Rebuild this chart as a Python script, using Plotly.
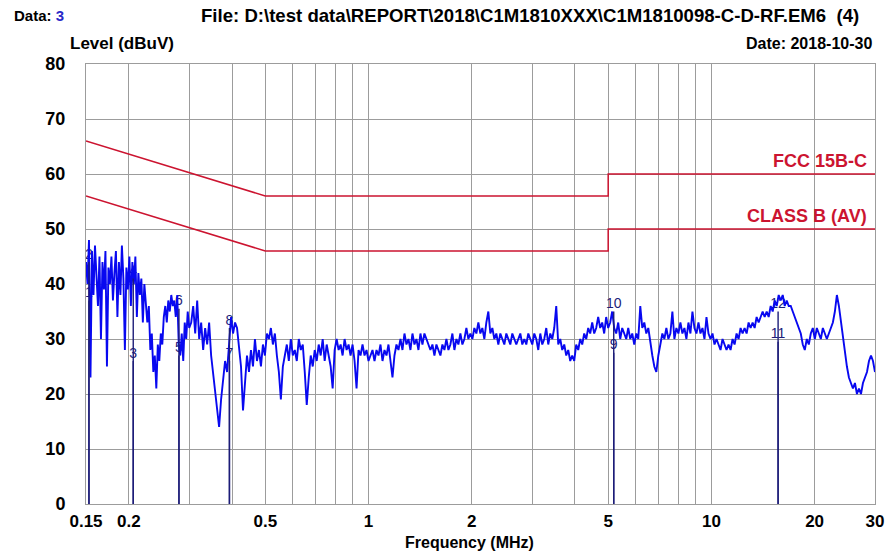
import numpy as np
import plotly.graph_objects as go

# ---- measured trace levels (dBuV), read from the picture segment by segment ----
# 0.15 .. 0.30 MHz
LEVEL_A = [
    44, 40, 48, 23, 46, 38, 47, 42, 36, 45,
    30, 44, 39, 46, 25, 43, 40, 45, 37, 42,
    46, 34, 44, 38, 47, 41, 28, 43, 39, 45,
    36, 44, 40, 45, 34, 42, 38, 41, 33, 40,
    37, 33, 36, 28, 31, 24, 27, 21, 29, 26,
    31, 29, 34, 36, 33, 37, 35, 38, 36, 37,
    34, 38, 29, 27, 31, 26, 33, 30, 35, 32,
]
# 0.30 .. 1.0 MHz
LEVEL_B = [
    33, 36, 31, 37, 30, 33, 28, 32, 29, 33,
    27, 24, 20, 17, 14, 19, 22, 26, 24, 30,
    34, 31, 33, 32, 28, 25, 17, 22, 27, 24,
    28, 25, 30, 26, 28, 25, 29, 27, 31, 30,
    32, 29, 31, 27, 24, 19, 25, 27, 29, 26,
    30, 27, 28, 26, 30, 28, 29, 24, 18, 23,
    27, 25, 28, 26, 29, 27, 30, 26, 29, 27,
    25, 21, 28, 30, 28, 29, 27, 30, 28, 29,
    27, 29, 26, 21, 28, 27, 29, 27, 28, 26,
]
# 1.0 .. 5.0 MHz
LEVEL_C = [
    27, 28, 26, 28, 27, 29, 26, 28, 27, 29,
    26, 23, 27, 29, 28, 30, 28, 31, 29, 30,
    28, 31, 29, 30, 28, 31, 29, 31, 30, 29,
    28, 29, 27, 29, 28, 27, 29, 28, 30, 28,
    29, 31, 28, 30, 29, 31, 29, 30, 32, 30,
    31, 30, 32, 31, 33, 31, 32, 30, 33, 35,
    31, 32, 30, 31, 29, 31, 30, 29, 31, 30,
    29, 31, 30, 29, 30, 31, 29, 30, 29, 31,
    30, 29, 31, 30, 28, 31, 29, 30, 32, 29,
    31, 30, 32, 36, 29, 30, 28, 29, 27, 28,
    26, 27, 26, 29, 28, 30, 29, 31, 30, 32,
    31, 33, 31, 32, 34, 32, 33, 31, 34, 32,
]
# 5.0 .. 30 MHz
LEVEL_D = [
    33, 35, 32, 31, 33, 30, 32, 31, 30, 32,
    30, 31, 29, 31, 30, 36, 32, 33, 31, 32,
    29, 27, 25, 24, 27, 29, 31, 30, 32, 30,
    31, 35, 30, 32, 31, 33, 31, 32, 30, 33,
    31, 35, 32, 31, 33, 31, 32, 30, 34, 31,
    30, 31, 29, 30, 29, 28, 30, 29, 28, 29,
    28, 30, 29, 31, 30, 32, 31, 32, 31, 33,
    32, 33, 32, 34, 33, 34, 35, 34, 35, 34,
    36, 35, 37, 36, 38, 37, 38, 36, 37, 36,
    36, 35, 34, 33, 32, 31, 29, 28, 30, 29,
    31, 32, 30, 32, 31, 30, 32, 31, 30, 31,
    32, 33, 35, 38, 36, 33, 31, 28, 25, 23,
    22, 21, 22, 20, 21, 20, 22, 23, 24, 26,
    27, 26, 24,
]
BAND_EDGES = [0.15, 0.30, 1.0, 5.0, 30.0]

# ---- limit lines ----
QP_FREQ = [0.15, 0.5, 5.0, 5.0, 30.0]
QP_LIMIT = [66, 56, 56, 60, 60]
AV_FREQ = [0.15, 0.5, 5.0, 5.0, 30.0]
AV_LIMIT = [56, 46, 46, 50, 50]

# ---- markers ----
MARK_NO = ["1", "2", "3", "4", "5", "6", "7", "8", "9", "10", "11", "12"]
MARK_FREQ = [0.153, 0.153, 0.206, 0.206, 0.280, 0.280, 0.393, 0.393, 5.19, 5.19, 15.65, 15.65]
MARK_LEVEL = [37.0, 44.0, 26.0, 41.0, 27.0, 35.5, 26.0, 32.0, 27.5, 35.0, 29.5, 35.0]

# ---- axes ----
X_GRID = [0.15, 0.2, 0.3, 0.4, 0.5, 0.6, 0.7, 0.8, 0.9, 1, 2, 3, 4, 5, 6, 7, 8, 9, 10, 20, 30]
X_LABEL = {0.15: "0.15", 0.2: "0.2", 0.5: "0.5", 1: "1", 2: "2", 5: "5", 10: "10", 20: "20", 30: "30"}
Y_TICKS = [0, 10, 20, 30, 40, 50, 60, 70, 80]

FONT = "Arial, Liberation Sans, sans-serif"
BLUE = "#0808f0"
RED = "#cc1430"
GRID = "#9c9c9c"
MARK = "#1c1c78"

segments = [LEVEL_A, LEVEL_B, LEVEL_C, LEVEL_D]
freq_parts = [np.geomspace(BAND_EDGES[0], BAND_EDGES[1], len(LEVEL_A))]
for k in range(1, 4):
    freq_parts.append(np.geomspace(BAND_EDGES[k], BAND_EDGES[k + 1], len(segments[k]) + 1)[1:])
freq = np.concatenate(freq_parts)
level = LEVEL_A + LEVEL_B + LEVEL_C + LEVEL_D

fig = go.Figure()

fig.add_trace(go.Scatter(x=QP_FREQ, y=QP_LIMIT, mode="lines",
                         line=dict(color=RED, width=1.5), hoverinfo="skip"))
fig.add_trace(go.Scatter(x=AV_FREQ, y=AV_LIMIT, mode="lines",
                         line=dict(color=RED, width=1.5), hoverinfo="skip"))

fig.add_trace(go.Scatter(x=MARK_FREQ, y=MARK_LEVEL, mode="text", text=MARK_NO,
                         textposition="top center",
                         textfont=dict(family=FONT, size=14, color=MARK)))

fig.add_trace(go.Scatter(x=freq, y=level, mode="lines",
                         line=dict(color=BLUE, width=1.9)))

vx, vy = [], []
for f, lv in zip(MARK_FREQ, MARK_LEVEL):
    vx += [f, f, None]
    vy += [0, lv, None]
fig.add_trace(go.Scatter(x=vx, y=vy, mode="lines",
                         line=dict(color=MARK, width=1.4), hoverinfo="skip"))

fig.update_layout(
    width=892, height=556,
    margin=dict(l=86, r=17, t=64, b=52, autoexpand=False),
    paper_bgcolor="white", plot_bgcolor="white",
    showlegend=False,
    font=dict(family=FONT, color="black"),
)

fig.update_xaxes(
    type="log", range=[np.log10(BAND_EDGES[0]), np.log10(BAND_EDGES[-1])],
    tickvals=X_GRID, ticktext=[X_LABEL.get(v, "") for v in X_GRID],
    showgrid=True, gridcolor=GRID, gridwidth=1,
    showline=True, linecolor=GRID, linewidth=1, mirror=True,
    ticks="", tickfont=dict(family=FONT, size=17, color="black", weight="bold"),
    ticklabelstandoff=2, zeroline=False, automargin=False,
)
fig.update_yaxes(
    range=[0, 80], tickvals=Y_TICKS,
    showgrid=True, gridcolor=GRID, gridwidth=1,
    showline=True, linecolor=GRID, linewidth=1, mirror=True,
    ticks="", tickfont=dict(family=FONT, size=18, color="black", weight="bold"),
    ticklabelstandoff=16, zeroline=False, automargin=False,
)

def ann(text, x, y, xanchor="left", size=16, color="black", xref="paper", yref="paper"):
    fig.add_annotation(text=text, x=x, y=y, xref=xref, yref=yref, xanchor=xanchor,
                       yanchor="middle", showarrow=False,
                       font=dict(family=FONT, size=size, color=color, weight="bold"))

W, H = 789.0, 440.0
ann("Data: <span style='color:#2a2ac8'>3</span>", (12 - 86) / W, (504 - 16) / H, size=15)
ann("File: D:\\test data\\REPORT\\2018\\C1M1810XXX\\C1M1810098-C-D-RF.EM6  (4)",
    (530 - 86) / W, (504 - 16) / H, xanchor="center", size=18.6)
ann("Date: 2018-10-30", (874 - 86) / W, (504 - 43) / H, xanchor="right", size=16)
ann("Level (dBuV)", (68 - 86) / W, (504 - 43) / H, size=17)
ann("Frequency (MHz)", (469 - 86) / W, (504 - 542) / H, xanchor="center", size=16)
ann("FCC 15B-C", (869 - 86) / W, 62.4, xanchor="right", size=18, color=RED, yref="y")
ann("CLASS B (AV)", (869 - 86) / W, 52.4, xanchor="right", size=18, color=RED, yref="y")

fig.write_html("out.html", config={"displayModeBar": False},
               post_script="document.body.style.margin='0';")
